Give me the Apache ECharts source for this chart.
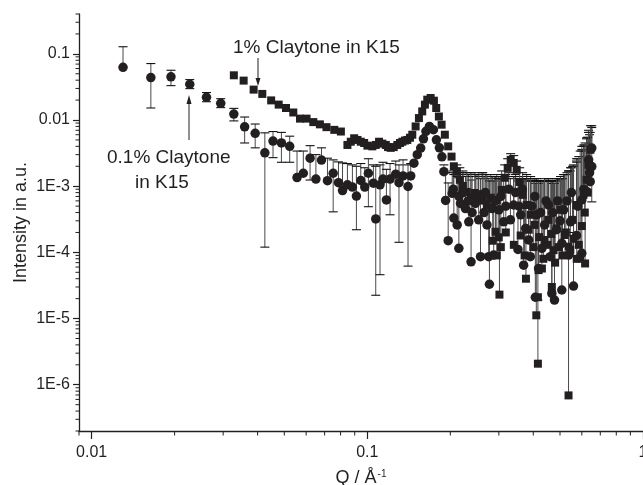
<!DOCTYPE html>
<html>
<head>
<meta charset="utf-8">
<script src="https://cdn.jsdelivr.net/npm/echarts@6/dist/echarts.min.js"></script>
<style>
html,body{margin:0;padding:0;background:#fff;}
#chart{width:643px;height:485px;}
</style>
</head>
<body>
<div id="chart"></div>
<script>
// ---- data: [Q, intensity, errorLow, errorHigh] ----
const circleRows = [
  [0.0130,0.0626,null,0.128],[0.0164,0.0438,0.0152,0.0713],[0.0194,0.0449,0.0331,0.0565],
  [0.0227,0.0347,0.0298,0.0408],[0.0261,0.0220,0.0189,0.0260],[0.0294,0.0179,0.0154,0.0210],
  [0.0328,0.0123,0.0097,0.0150],[0.0359,0.0079,0.0045,0.0111],[0.0392,0.0063,0.0038,0.0087],
  [0.0425,0.0032,0.00012,0.0064],[0.0455,0.0048,0.0027,0.0067],[0.0488,0.0045,0.0023,0.0065],
  [0.0523,0.0040,0.0023,0.0057],[0.0556,0.00135,null,0.0034],[0.0586,0.00157,null,0.0034],
  [0.0620,0.00265,0.00124,0.0041],[0.0651,0.00128,null,0.0030],[0.0682,0.00248,null,0.0038],
  [0.0717,0.00121,null,0.00265],[0.0752,0.00157,0.00041,0.0025],[0.0786,0.00113,null,0.00233],
  [0.0813,0.00086,null,0.00225],[0.0847,0.00105,null,0.0022],[0.0883,0.00097,null,0.0021],
  [0.0913,0.00071,0.00022,0.0020],[0.0947,0.00122,null,0.0022],[0.0979,0.00097,null,0.0019],
  [0.1009,0.00157,0.00049,0.0026],[0.1052,0.00111,null,0.0021],[0.1073,0.00032,0.0000225,0.0020],
  [0.1112,0.00105,0.000046,0.0021],[0.1140,0.00128,null,0.0023],[0.1173,0.00062,null,0.0018],
  [0.1209,0.00128,0.00037,0.0022],[0.1268,0.00152,null,0.0024],[0.1303,0.00113,0.000142,0.0021],
  [0.1348,0.00143,null,0.0025],[0.1405,0.00099,0.000062,0.0021],[0.1437,0.00143,null,0.0022],
  [0.1476,0.00223,null,null],[0.1518,0.0030,null,null],[0.1562,0.00377,null,null],
  [0.1598,0.0052,null,null],[0.1632,0.00676,null,null],[0.1680,0.0080,null,null],
  [0.1737,0.00713,null,null],[0.1781,0.00503,null,null],[0.1826,0.0038,null,null],
  [0.1865,0.00278,null,null],[0.1896,0.00166,null,0.0021],[0.1923,0.00061,null,0.0016],
  [0.1965,0.00015,null,0.00112],[0.2032,0.00078,null,0.0016],[0.2060,0.00033,null,0.0015],
  [0.2050,0.0009,null,0.0017],[0.2150,0.0007,null,0.0016],[0.2220,0.0008,null,0.0016],
  [0.2118,0.00026,null,0.0014],[0.2148,0.000115,null,0.00134],[0.2178,0.00055,null,0.0015],
  [0.2270,0.00046,null,0.0014],[0.2334,0.00029,null,0.0015],[0.2379,0.000072,null,0.00124],
  [0.2320,0.0006,null,0.0015],[0.2400,0.0004,null,0.0014],[0.2500,0.0007,null,0.0015],
  [0.2466,0.00055,null,0.0015],[0.2535,0.00031,null,0.0014],[0.2609,0.00062,null,0.0016],
  [0.2574,0.000086,null,0.0013],[0.2717,0.00026,null,0.0014],[0.2757,0.000086,null,0.0013],
  [0.2650,0.0004,null,0.0014],[0.2680,0.0008,null,0.0015],[0.2900,0.0006,null,0.0014],
  [0.2773,0.000033,null,0.0012],[0.2834,0.00046,null,0.0014],[0.2874,0.000091,null,0.0012],
  [0.3000,0.00044,null,0.0013],[0.3124,0.00029,null,0.0013],[0.3396,0.00052,null,0.0014],
  [0.3050,0.0007,null,0.0014],[0.3180,0.0005,null,0.0014],[0.3260,0.0009,null,0.0016],
  [0.3304,0.00031,null,0.0013],[0.3520,0.000111,null,0.0012],[0.3600,0.00037,null,0.0013],
  [0.3450,0.0008,null,0.0015],[0.3550,0.0005,null,0.0013],[0.3650,0.0009,null,0.0014],
  [0.3690,0.000064,null,0.0012],[0.3753,0.00023,null,0.0013],[0.3847,0.000154,null,0.0012],
  [0.3902,0.000086,null,0.0012],[0.4069,0.000021,null,0.0011],[0.4111,0.00037,null,0.0013],
  [0.3950,0.0005,null,0.0012],[0.4050,0.0007,null,0.0013],[0.4250,0.0004,null,0.0012],
  [0.4181,0.000057,null,0.0011],[0.4298,0.000115,null,0.0012],[0.4397,0.00026,null,0.0012],
  [0.4545,0.00052,null,0.0013],[0.4609,0.000086,null,0.0012],[0.4670,0.000024,null,0.0011],
  [0.4450,0.0006,null,0.0012],[0.4700,0.0004,null,0.0012],[0.4900,0.0006,null,0.0013],
  [0.4775,0.000019,null,0.0011],[0.4857,0.00022,null,0.0012],[0.5076,0.000137,null,0.0013],
  [0.5076,0.000027,null,0.0013],[0.5150,0.00044,null,0.0015],[0.5369,0.000091,null,0.0017],
  [0.5000,0.0003,null,0.0013],[0.5300,0.0006,null,0.0016],[0.5500,0.0008,null,0.0019],
  [0.5459,0.00029,null,0.0019],[0.5597,0.000031,null,0.0021],[0.5738,0.00018,null,0.0024],
  [0.5800,0.0005,null,0.0026],[0.6100,0.0009,null,0.0042],[0.6400,0.0016,null,0.0060],
  [0.5998,0.000097,null,0.0036],[0.5998,0.00062,null,0.0040],[0.6252,0.00083,null,0.0054],
  [0.6350,0.0025,null,0.0070],
  [0.6434,0.00117,null,0.0065],[0.6519,0.00198,0.00058,0.0082],[0.6519,0.00377,null,0.0077]
];

const squareRows = [
  [0.0328,0.0474,null,null],[0.0356,0.0394,null,null],[0.0387,0.0288,null,null],
  [0.0416,0.0248,null,null],[0.0448,0.0198,null,null],[0.0477,0.0171,null,null],
  [0.0507,0.0152,null,null],[0.0539,0.0130,null,null],[0.0570,0.0105,null,null],
  [0.0602,0.0105,null,null],[0.0637,0.0093,null,null],[0.0673,0.0086,null,null],
  [0.0711,0.0078,null,null],[0.0759,0.0071,null,null],[0.0802,0.0067,null,null],
  [0.0847,0.0042,null,null],[0.0871,0.0047,null,null],[0.0896,0.0053,null,null],
  [0.0921,0.0050,null,null],[0.0947,0.0047,null,null],[0.0974,0.0045,null,null],
  [0.1001,0.0041,null,null],[0.1043,0.0040,null,null],[0.1073,0.0042,null,null],
  [0.1103,0.0047,null,null],[0.1134,0.0044,null,null],[0.1167,0.0042,null,null],
  [0.1189,0.0039,null,null],[0.1216,0.0038,null,null],[0.1247,0.0039,null,null],
  [0.1285,0.0042,null,null],[0.1314,0.0045,null,null],[0.1340,0.0047,null,null],
  [0.1370,0.0049,null,null],[0.1397,0.0050,null,null],[0.1428,0.0054,null,null],
  [0.1456,0.0060,null,null],[0.1497,0.0080,null,null],[0.1539,0.0107,null,null],
  [0.1582,0.0135,null,null],[0.1618,0.0171,null,null],[0.1650,0.0203,null,null],
  [0.1697,0.0215,null,null],[0.1744,0.0196,null,null],[0.1778,0.0152,null,null],
  [0.1818,0.0113,null,null],[0.1860,0.0085,null,null],[0.1911,0.0060,null,null],
  [0.1965,0.0040,null,null],[0.2021,0.0028,null,null],[0.2060,0.0020,null,null],
  [0.2113,0.00165,null,0.0021],[0.2166,0.00125,null,0.0019],[0.2221,0.00101,null,0.0017],
  [0.2296,0.00082,null,0.0016],[0.2374,0.00067,null,0.0016],[0.2454,0.00079,null,0.0016],
  [0.2535,0.00062,null,0.0015],[0.2623,0.00076,null,0.0016],[0.2713,0.00052,null,0.0015],
  [0.2805,0.00067,null,0.0015],[0.2916,0.000205,null,0.0014],[0.2948,0.00062,null,0.0015],
  [0.2998,0.000169,null,0.0014],[0.3015,0.000023,null,0.0013],[0.3073,0.00088,null,0.0017],
  [0.2850,0.00015,null,0.0014],[0.2950,0.00009,null,0.0013],[0.3050,0.00012,null,0.0014],
  [0.3180,0.00020,null,0.0015],[0.3400,0.00013,null,0.0014],[0.3600,0.00018,null,0.0013],
  [0.3151,0.00134,null,0.0021],[0.3230,0.00189,null,0.0026],[0.3311,0.0025,null,0.0031],
  [0.3396,0.00225,null,0.0029],[0.3482,0.00177,null,0.0024],[0.3570,0.00116,null,0.0019],
  [0.3660,0.00074,null,0.0016],[0.3762,0.000040,null,0.0013],[0.3784,0.00052,null,0.0015],
  [0.3720,0.00009,null,0.0013],[0.3850,0.00022,null,0.0013],[0.4000,0.00012,null,0.0012],
  [0.3912,0.00037,null,0.0014],[0.4045,0.00026,null,0.0013],[0.4102,0.0000112,null,0.0012],
  [0.4157,0.000021,null,0.0012],[0.4157,0.00000208,null,0.000019],[0.4181,0.000054,null,0.0012],
  [0.4200,0.00017,null,0.0012],[0.4350,0.00008,null,0.0012],[0.4500,0.00013,null,0.0012],
  [0.4298,0.000057,null,0.0012],[0.4395,0.000154,null,0.0013],[0.4545,0.00031,null,0.0013],
  [0.4650,0.00019,null,0.0012],[0.4800,0.00007,null,0.0012],[0.4950,0.00012,null,0.0013],
  [0.4670,0.000030,null,0.0012],[0.4737,0.000108,null,0.0012],[0.4857,0.00023,null,0.0013],
  [0.5100,0.00009,null,0.0013],[0.5250,0.00020,null,0.0015],[0.5450,0.00011,null,0.0017],
  [0.5022,0.00044,null,0.0014],[0.5192,0.000183,null,0.0015],[0.5369,0.000122,null,0.0017],
  [0.5369,0.00000069,null,0.00020],[0.5550,0.00031,null,0.0020],[0.5738,0.00052,null,0.0026],
  [0.5600,0.00016,null,0.0020],[0.5750,0.00008,null,0.0023],[0.5850,0.00013,null,0.0028],
  [0.6000,0.00025,null,0.0034],[0.6150,0.00040,null,0.0042],[0.6300,0.00080,null,0.0055],
  [0.5918,0.000081,null,0.0034],[0.6083,0.00074,null,0.0040],[0.6166,0.000068,null,0.0045],
  [0.6237,0.00125,null,0.0052],[0.6341,0.0021,null,0.0065],[0.6447,0.00355,null,0.0082]
];

// ---- axis ticks / labels ----
const xMajorTicks = [0.01, 0.1, 1];
const yMajorTicks = [1e-7, 1e-6, 1e-5, 1e-4, 1e-3, 0.01, 0.1];
const minorMultipliers = [2, 3, 4, 5, 6, 7, 8, 9];
const xDecadeStarts = [0.001, 0.01, 0.1];

const xRange = [0.009, 1];
const yRange = [2e-7, 0.4];

function inRange(v, r) { return v >= r[0] * 0.999 && v <= r[1] * 1.001; }
const xMinorTicks = [];
xDecadeStarts.forEach(d => minorMultipliers.forEach(m => {
  const v = +(d * m).toPrecision(3); if (inRange(v, xRange)) xMinorTicks.push(v);
}));
const yMinorTicks = [];
yMajorTicks.forEach(d => minorMultipliers.forEach(m => {
  const v = +(d * m).toPrecision(3); if (inRange(v, yRange)) yMinorTicks.push(v);
}));

const INK = '#231f20';
const FONT = '"Liberation Sans", Arial, Helvetica, sans-serif';

function fmtX(v) {
  const e = Math.round(Math.log10(v));
  return e >= 0 ? '1' : Math.pow(10, e).toFixed(-e);
}
function fmtY(v) {
  const e = Math.round(Math.log10(v));
  if (e >= -2) return Math.pow(10, e).toFixed(-e);
  return '1E' + e;
}

function errorBarRenderer(params, api) {
  const q = api.value(0), v = api.value(1), lo = api.value(2), hi = api.value(3);
  const hasHi = hi > 0, hasLo = lo > 0;
  if (!hasHi && !hasLo) return null;
  const p = api.coord([q, v]);
  const top = hasHi ? api.coord([q, hi]) : p;
  const bot = hasLo ? api.coord([q, lo]) : p;
  const children = [{
    type: 'line',
    shape: { x1: p[0], y1: top[1], x2: p[0], y2: bot[1] },
    style: { stroke: '#4a4a4a', lineWidth: 1 }
  }];
  if (hasHi) children.push({ type: 'line', shape: { x1: p[0] - 4.5, y1: top[1], x2: p[0] + 4.5, y2: top[1] }, style: { stroke: '#111', lineWidth: 1.1 } });
  if (hasLo) children.push({ type: 'line', shape: { x1: p[0] - 4.5, y1: bot[1], x2: p[0] + 4.5, y2: bot[1] }, style: { stroke: '#111', lineWidth: 1.1 } });
  return { type: 'group', children };
}

// minor tick marks drawn through the axis scales
function xMinorRenderer(params, api) {
  const p = api.coord([api.value(0), yRange[0]]);
  return { type: 'line', shape: { x1: p[0], y1: p[1], x2: p[0], y2: p[1] + 4.5 }, style: { stroke: INK, lineWidth: 1 } };
}
function yMinorRenderer(params, api) {
  const p = api.coord([xRange[0], api.value(1)]);
  return { type: 'line', shape: { x1: p[0], y1: p[1], x2: p[0] - 3.5, y2: p[1] }, style: { stroke: INK, lineWidth: 1 } };
}

const chart = echarts.init(document.getElementById('chart'), null, { renderer: 'canvas' });

const option = {
  backgroundColor: '#ffffff',
  animation: false,
  textStyle: { fontFamily: FONT, color: INK },
  grid: { left: 79, right: 0, top: 14, bottom: 54, containLabel: false, outerBoundsMode: 'none' },
  xAxis: {
    type: 'log', logBase: 10, min: xRange[0], max: xRange[1], position: 'bottom',
    splitLine: { show: false }, minorTick: { show: false }, minorSplitLine: { show: false },
    axisLine: { show: true, onZero: false, lineStyle: { color: INK, width: 1.3 } },
    axisTick: { show: true, customValues: xMajorTicks, length: 8, lineStyle: { color: INK, width: 1.2 } },
    axisLabel: { show: true, customValues: xMajorTicks, formatter: fmtX, margin: 14, fontSize: 16, color: INK, fontFamily: FONT },
    name: '{a|Q / Å}{s|-1}', nameLocation: 'middle', nameGap: 38, nameMoveOverlap: false,
    nameTextStyle: {
      color: INK, fontFamily: FONT,
      rich: {
        a: { fontSize: 18, color: INK, fontFamily: FONT },
        s: { fontSize: 10, color: INK, fontFamily: FONT, verticalAlign: 'top', padding: [0, 0, 8, 1] }
      }
    }
  },
  yAxis: {
    type: 'log', logBase: 10, min: yRange[0], max: yRange[1], position: 'left',
    splitLine: { show: false }, minorTick: { show: false }, minorSplitLine: { show: false },
    axisLine: { show: true, onZero: false, lineStyle: { color: INK, width: 1.3 } },
    axisTick: { show: true, customValues: yMajorTicks, length: 6, lineStyle: { color: INK, width: 1.2 } },
    axisLabel: { show: true, customValues: yMajorTicks, formatter: fmtY, margin: 9, fontSize: 16, color: INK, fontFamily: FONT },
    name: 'Intensity in a.u.', nameLocation: 'middle', nameGap: 49, nameMoveOverlap: false,
    nameTextStyle: { fontSize: 18, color: INK, fontFamily: FONT }
  },
  series: [
    {
      type: 'custom', name: 'xMinorTicks', clip: false, silent: true,
      dimensions: ['q', 'i'], encode: { x: 0, y: 1 },
      renderItem: xMinorRenderer, data: xMinorTicks.map(v => [v, yRange[0]]), z: 5
    },
    {
      type: 'custom', name: 'yMinorTicks', clip: false, silent: true,
      dimensions: ['q', 'i'], encode: { x: 0, y: 1 },
      renderItem: yMinorRenderer, data: yMinorTicks.map(v => [xRange[0], v]), z: 5
    },
    {
      type: 'custom', name: 'errCircle',
      dimensions: ['q', 'i', 'lo', 'hi'], encode: { x: 0, y: 1 },
      renderItem: errorBarRenderer, data: circleRows, z: 1, silent: true
    },
    {
      type: 'custom', name: 'errSquare',
      dimensions: ['q', 'i', 'lo', 'hi'], encode: { x: 0, y: 1 },
      renderItem: errorBarRenderer, data: squareRows, z: 1, silent: true
    },
    {
      type: 'scatter', name: '1% Claytone in K15',
      symbol: 'rect', symbolSize: 8,
      itemStyle: { color: INK, opacity: 1 },
      data: squareRows.map(r => [r[0], r[1]]), z: 3
    },
    {
      type: 'scatter', name: '0.1% Claytone in K15',
      symbol: 'circle', symbolSize: 9.5,
      itemStyle: { color: INK, opacity: 1 },
      data: circleRows.map(r => [r[0], r[1]]), z: 4
    }
  ],
  graphic: [
    { type: 'text', left: 233, top: 38, style: { text: '1% Claytone in K15', fontSize: 19, fontFamily: FONT, fill: INK } },
    { type: 'line', shape: { x1: 258, y1: 58, x2: 258, y2: 80 }, style: { stroke: INK, lineWidth: 1 } },
    { type: 'polygon', shape: { points: [[255.5, 78], [260.5, 78], [258, 86]] }, style: { fill: INK } },
    { type: 'text', left: 107, top: 148, style: { text: '0.1% Claytone', fontSize: 19, fontFamily: FONT, fill: INK } },
    { type: 'text', left: 135, top: 173, style: { text: 'in K15', fontSize: 19, fontFamily: FONT, fill: INK } },
    { type: 'line', shape: { x1: 189, y1: 140, x2: 189, y2: 102 }, style: { stroke: INK, lineWidth: 1 } },
    { type: 'polygon', shape: { points: [[186.5, 104], [191.5, 104], [189, 95]] }, style: { fill: INK } }
  ]
};

chart.setOption(option);
</script>
</body>
</html>
